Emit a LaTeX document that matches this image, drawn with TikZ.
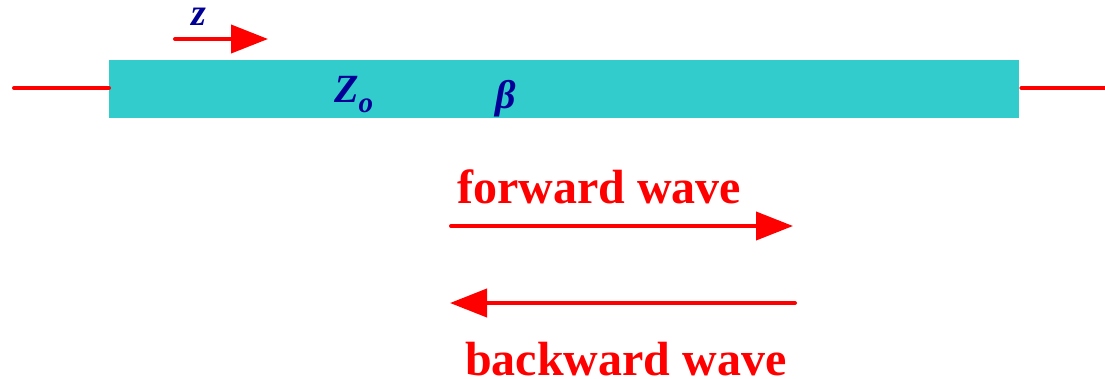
\documentclass[tikz,border=0pt]{standalone}
\usepackage{fontspec}
\setmainfont{Liberation Serif}
\usetikzlibrary{arrows.meta}
\definecolor{tubecol}{RGB}{51,204,204}
\definecolor{navy}{RGB}{0,0,150}
\definecolor{wred}{RGB}{255,0,0}
\tikzset{
  wire/.style={draw=wred, line width=4pt, line cap=round},
  wavearrow/.style={draw=wred, line width=4pt, line cap=round, -{Triangle[length=37pt,width=28pt]}},
  sym/.style={text=navy, font=\fontsize{38}{40}\selectfont\bfseries\itshape, inner sep=0pt, anchor=base west},
  lbl/.style={text=wred, font=\fontsize{48}{50}\selectfont\bfseries, inner sep=0pt, anchor=base west}
}
\begin{document}
\begin{tikzpicture}[x=1pt,y=-1pt]
\useasboundingbox (0,0) rectangle (1105,378);
% tube
\node[fill=tubecol, draw=none, minimum width=910pt, minimum height=58pt, inner sep=0pt, anchor=north west] (tube) at (109,60) {};
% leads
\coordinate (lend) at (14,88);
\coordinate (rend) at (1105,88);
\draw[wire] (lend) -- (lend -| tube.west);
\draw[wire] (rend -| tube.east) ++(2,0) coordinate (rstart) -- (rend);
% z arrow
\node[sym, text height=18pt, text depth=0pt] (zlbl) at (191,25) {z};
\coordinate (zs) at (175,39);
\coordinate (ze) at (268,39);
\draw[wavearrow] (zs) -- (ze);
% symbols
\node[sym, font=\fontsize{40}{42}\selectfont\bfseries\itshape] (Zo) at (334,102) {Z\raisebox{-10pt}{\fontsize{29}{30}\selectfont o}};
\node[sym, font=\fontsize{40}{42}\selectfont\bfseries\itshape] (beta) at (495,108) {β};
% forward wave
\node[lbl] (fw) at (457,203) {forward wave};
\coordinate (fs) at (451,226);
\coordinate (fe) at (793,226);
\draw[wavearrow] (fs) -- (fe);
% backward wave
\coordinate (bs) at (795,303);
\coordinate (be) at (450,303);
\draw[wavearrow] (bs) -- (be);
\node[lbl, text depth=0pt] (bw) at (465,375) {backward wave};
\end{tikzpicture}
\end{document}
